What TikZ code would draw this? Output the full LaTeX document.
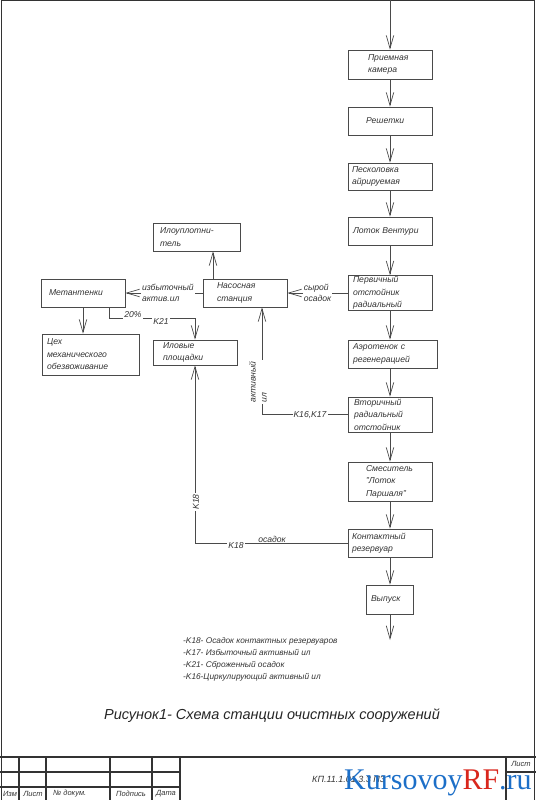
\documentclass[tikz,border=0pt]{standalone}
\usepackage{fontspec}
\setmainfont{Liberation Sans}
\newfontfamily\markfont{Liberation Serif}
\usetikzlibrary{arrows.meta}
\definecolor{linec}{HTML}{4A4A4A}
\definecolor{textc}{HTML}{333333}
\definecolor{markblue}{HTML}{1C6FC8}
\definecolor{markred}{HTML}{D9261C}

\begin{document}
\begin{tikzpicture}[x=1pt,y=1pt,yscale=-1,xscale=1,
  stage/.style={draw=linec, line width=0.7pt, align=left, inner xsep=5pt, inner ysep=0pt, text=textc, font=\itshape\fontsize{8.6}{12.5}\selectfont},
  flow/.style={draw=linec, line width=0.7pt, -{Straight Barb[length=13pt,width=7.5pt]}},
  lbl/.style={fill=white, inner sep=1pt, text=textc, align=left, font=\itshape\fontsize{8.6}{11}\selectfont},
  frame/.style={line width=1.4pt, draw=black!80},
  cell/.style={line width=1.2pt, draw=black!80},
  small/.style={inner sep=0pt, text=textc, font=\itshape\fontsize{7.5}{9}\selectfont}]
%set diagram area: 536 x 800
\useasboundingbox (0,0) rectangle (536,800);

%Shape: Frame
\draw[frame] (1.5,800) -- (1.5,0.8) -- (534.3,0.8) -- (534.3,800);

%Shape: Rectangle [main line]
\node[stage, inner xsep=20pt, text width=44pt, minimum height=29pt] (priem) at (390,64.5) {Приемная\\камера};
%Shape: Rectangle
\node[stage, inner xsep=18pt, text width=48pt, minimum height=28pt] (resh) at (390,121) {Решетки};
%Shape: Rectangle
\node[stage, inner xsep=4pt, text width=76pt, minimum height=27pt] (pesk) at (390,176.5) {Песколовка\\айрируемая};
%Shape: Rectangle
\node[stage, text width=74pt, minimum height=28pt] (lotok) at (390,231) {Лоток Вентури};
%Shape: Rectangle
\node[stage, text width=74pt, minimum height=35pt] (perv) at (390,293) {Первичный\\отстойник\\радиальный};
%Shape: Rectangle
\node[stage, text width=79pt, minimum height=28pt] (aero) at (392.5,354) {Аэротенок с\\регенерацией};
%Shape: Rectangle
\node[stage, inner xsep=6pt, text width=72pt, minimum height=35pt] (vtor) at (390,414.5) {Вторичный\\радиальный\\отстойник};
%Shape: Rectangle
\node[stage, inner xsep=18pt, text width=48pt, minimum height=39pt] (smes) at (390,481.5) {Смеситель\\"Лоток\\Паршаля"};
%Shape: Rectangle
\node[stage, inner xsep=4pt, text width=76pt, minimum height=28pt] (kont) at (390,543) {Контактный\\резервуар};
%Shape: Rectangle
\node[stage, text width=37pt, minimum height=29pt] (vyp) at (389.5,599.5) {Выпуск};

%Shape: Rectangle [sludge line]
\node[stage, inner xsep=7pt, text width=73pt, minimum height=28pt] (ilo) at (196.5,237) {Илоуплотни-\\тель};
%Shape: Rectangle
\node[stage, inner xsep=14pt, text width=56pt, minimum height=28pt] (nas) at (245,293) {Насосная\\станция};
%Shape: Rectangle
\node[stage, inner xsep=8pt, text width=68pt, minimum height=28pt] (met) at (83,293) {Метантенки};
%Shape: Rectangle
\node[stage, text width=87pt, minimum height=41pt] (ceh) at (90.5,354.5) {Цех\\механического\\обезвоживание};
%Shape: Rectangle
\node[stage, inner xsep=10pt, text width=64pt, minimum height=25pt] (ilov) at (195,352.5) {Иловые\\площадки};

\coordinate (inlet) at (390,0);
\coordinate (outlet) at (390,640);
\coordinate (nasup) at ([xshift=-32pt]nas.north);
\coordinate (nasin) at ([xshift=17pt]nas.south);
\coordinate (metout) at ([xshift=26pt]met.south);

%Straight Lines [main line]
\draw[flow] (inlet) -- (priem.north);
\draw[flow] (priem.south) -- (resh.north);
\draw[flow] (resh.south) -- (pesk.north);
\draw[flow] (pesk.south) -- (lotok.north);
\draw[flow] (lotok.south) -- (perv.north);
\draw[flow] (perv.south) -- (perv.south |- aero.north);
\draw[flow] (aero.south -| vtor.north) -- (vtor.north);
\draw[flow] (vtor.south) -- (smes.north);
\draw[flow] (smes.south) -- (kont.north);
\draw[flow] (kont.south) -- (kont.south |- vyp.north);
\draw[flow] (kont.south |- vyp.south) -- (outlet);

%Straight Lines [sludge]
\draw[flow] (perv.west) -- node[lbl] (syr) {сырой\\осадок} (nas.east);
\draw[flow] (nas.west) -- node[lbl, pos=0.45] (izb) {избыточный\\актив.ил} (met.east);
\draw[flow] (nasup) -- (nasup |- ilo.south);
\draw[flow] (met.south) -- (met.south |- ceh.north);
\draw[flow] (metout) -- ++(0,11) -| (ilov.north);
\draw[flow] (vtor.west) -| (nasin);
\draw[flow] (kont.west) -| (ilov.south);

% Text Node
\node[lbl] (pct) at (133,315) {20\%};
% Text Node
\node[lbl] (k21) at (161,321) {K21};
% Text Node
\node[lbl] (k1617) at (310,415) {K16,K17};
% Text Node
\node[lbl, rotate=90] (akt) at (258,382) {активный\\ил};
% Text Node
\node[lbl] (osad) at (272,539) {осадок};
% Text Node
\node[lbl] (k18a) at (236,546) {K18};
% Text Node
\node[lbl, rotate=90] (k18b) at (196,502) {K18};

% Text Node
\node[anchor=north west, inner sep=0pt, align=left, text=textc, font=\itshape\fontsize{8.3}{12}\selectfont] (legend) at (183,637) {-K18- Осадок контактных резервуаров\\-K17- Избыточный активный ил\\-K21- Сброженный осадок\\-K16-Циркулирующий активный ил};
% Text Node
\node[text=black!85, font=\itshape\fontsize{14.5}{16}\selectfont] (title) at (272,716) {Рисунок1- Схема станции очистных сооружений};

%Shape: Title block
\draw[cell] (0,757) -- (536,757);
\draw[cell] (19,757) -- (19,800);
\draw[cell] (46,757) -- (46,800);
\draw[cell] (110,757) -- (110,800);
\draw[cell] (152,757) -- (152,800);
\draw[cell] (180,757) -- (180,800);
\draw[cell] (0,772) -- (180,772);
\draw[cell] (0,787) -- (180,787);
\draw[cell] (506,757) -- (506,800);
\draw[cell] (506,772) -- (536,772);

% Text Node
\node[small] (izm) at (10,794) {Изм};
\node[small] (lst) at (33,794) {Лист};
\node[small, anchor=west] (ndoc) at (53,794) {№ докум.};
\node[small] (podp) at (131,794) {Подпись};
\node[small] (data) at (166,794) {Дата};
\node[small] (lista) at (521,764) {Лист};
\node[anchor=west, inner sep=0pt, text=textc, font=\itshape\fontsize{9}{10}\selectfont] (code) at (312,779) {КП.11.1.01.3.3 ПЗ};
\node[anchor=west, inner sep=0pt, font=\markfont\fontsize{30}{30}\selectfont] (mark) at (344,783) {\textcolor{markblue}{Kursovoy}\textcolor{markred}{RF}\textcolor{markblue}{.ru}};

\end{tikzpicture}
\end{document}
